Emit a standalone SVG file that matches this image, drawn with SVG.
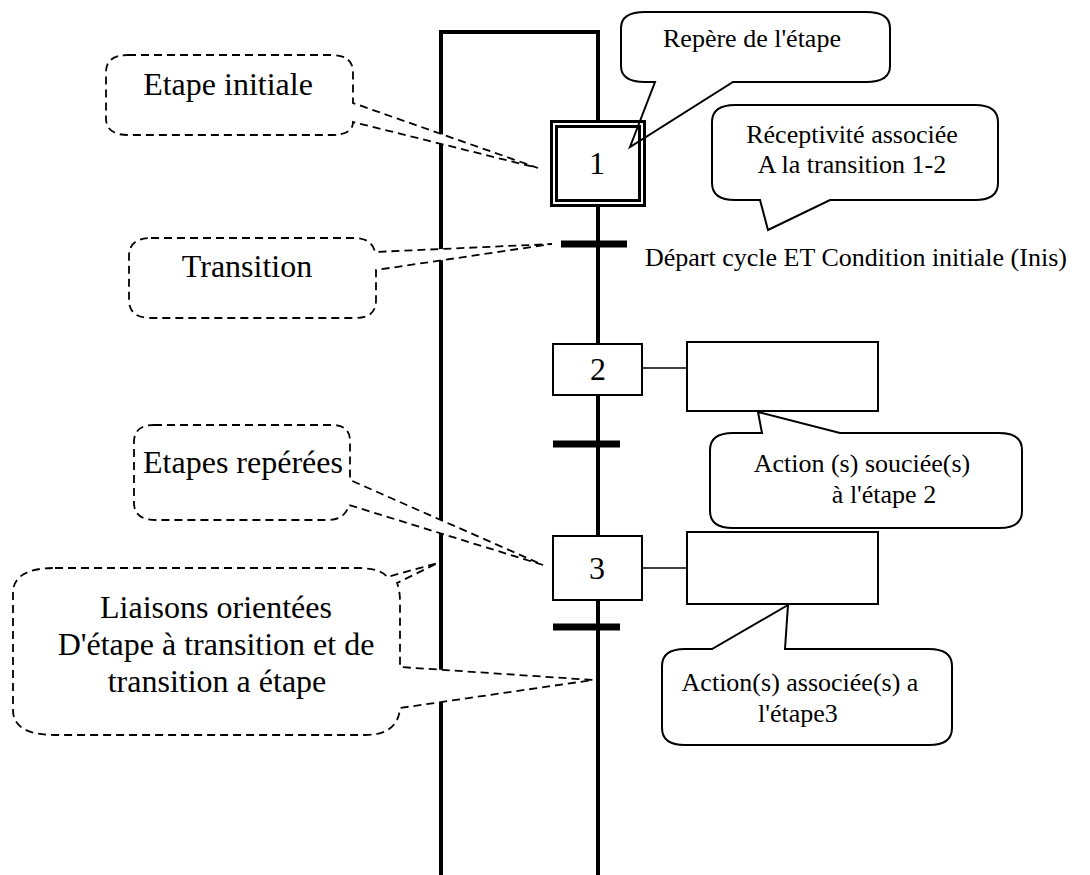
<svg xmlns="http://www.w3.org/2000/svg" width="1090" height="875" viewBox="0 0 1090 875">
  <defs>
    <style>
      text { font-family: "Liberation Serif", "Times New Roman", serif; fill: #000; }
      .big { font-size: 32px; text-anchor: middle; }
      .small { font-size: 26px; }
      .mid { text-anchor: middle; }
      .num { font-size: 32px; text-anchor: middle; }
      .link { stroke: #000; stroke-width: 4; fill: none; }
      .bar { stroke: #000; stroke-width: 7; }
      .thin { stroke: #000; stroke-width: 1.6; fill: none; }
      .step { stroke: #000; stroke-width: 2; fill: #fff; }
      .dbl { stroke: #000; stroke-width: 3; fill: none; }
      .act { stroke: #000; stroke-width: 2; fill: #fff; }
      .bubble { stroke: #000; stroke-width: 2; fill: #fff; stroke-linejoin: miter; }
      .note { stroke: #000; stroke-width: 1.8; fill: #fff; stroke-dasharray: 8 5; }
    </style>
  </defs>
  <rect width="1090" height="875" fill="#fff"/>

  <!-- oriented links: main chain and return loop -->
  <g id="connectors">
    <path class="link" d="M598,875 V32 H441 V875"/>
    <line class="thin" x1="642" y1="368" x2="687" y2="368"/>
    <line class="thin" x1="642" y1="568" x2="687" y2="568"/>
  </g>

  <!-- transitions -->
  <g id="transition-1-2">
    <line class="bar" x1="561" y1="244" x2="627" y2="244"/>
    <text class="small" x="645" y="266">Départ cycle ET Condition initiale (Inis)</text>
  </g>
  <g id="transition-2-3">
    <line class="bar" x1="553" y1="444" x2="620" y2="444"/>
  </g>
  <g id="transition-3">
    <line class="bar" x1="553" y1="627" x2="620" y2="627"/>
  </g>

  <!-- steps -->
  <g id="step-2">
    <rect class="step" x="553" y="344" width="89" height="51"/>
    <text class="num" x="598" y="380">2</text>
  </g>
  <g id="step-3">
    <rect class="step" x="553" y="536" width="89" height="64"/>
    <text class="num" x="597" y="579">3</text>
  </g>

  <!-- action boxes -->
  <g id="action-2">
    <rect class="act" x="687" y="342" width="191" height="69"/>
  </g>
  <g id="action-3">
    <rect class="act" x="687" y="532" width="191" height="72"/>
  </g>

  <!-- step 1 (initial step, double frame) -->
  <g id="step-1">
    <rect x="551.5" y="121.5" width="93" height="84" fill="#fff" stroke="none"/>
    <text class="num" x="597" y="174">1</text>
  </g>

  <!-- dashed annotation callouts -->
  <g id="note-etape-initiale">
    <path class="note" d="M128,55 H331 Q353,55 353,72 V103 L538,168 L353,122 Q353,135 331,135 H128 Q106,135 106,118 V72 Q106,55 128,55 Z"/>
    <text class="big" x="228" y="95">Etape initiale</text>
  </g>
  <g id="note-transition">
    <path class="note" d="M151,238 H354 Q372,238 375,252 L552,244 L376,270 V300 Q376,318 356,318 H151 Q129,318 129,300 V256 Q129,238 151,238 Z"/>
    <text class="big" x="247" y="277">Transition</text>
  </g>
  <g id="note-etapes-reperees">
    <path class="note" d="M154,425 H332 Q350,425 350,441 V480 L543,565 L349,505 Q345,520 328,520 H156 Q134,520 134,503 V442 Q134,425 154,425 Z"/>
    <text class="big" x="243" y="473">Etapes repérées</text>
  </g>
  <g id="note-liaisons">
    <path class="note" d="M55,568 H360 Q382,569 387,577 L438,563 L397,583 Q400,590 400,602 V667 L593,680 L400,708 Q398,735 365,735 H55 Q13,735 13,710 V593 Q13,568 55,568 Z"/>
    <text class="big" x="216" y="618">Liaisons orientées</text>
    <text class="big" x="216" y="655">D'étape à transition et de</text>
    <text class="big" x="217" y="692">transition a étape</text>
  </g>

  <!-- solid callouts -->
  <g id="note-repere">
    <path class="bubble" d="M645,12 H866 Q890,12 890,28 V66 Q890,82 866,82 H733 L630,147 L655,82 H645 Q621,82 621,66 V28 Q621,12 645,12 Z"/>
    <text class="small mid" x="752" y="47">Repère de l'étape</text>
  </g>
  <g id="note-receptivite">
    <path class="bubble" d="M735,105 H975 Q998,105 998,122 V183 Q998,200 975,200 H830 L768,230 L760,200 H735 Q712,200 712,183 V122 Q712,105 735,105 Z"/>
    <text class="small mid" x="852" y="143">Réceptivité associée</text>
    <text class="small mid" x="852" y="173">A la transition 1-2</text>
  </g>
  <g id="note-action-2">
    <path class="bubble" d="M733,433 H762 L758,412 L840,433 H999 Q1022,433 1022,450 V511 Q1022,528 999,528 H733 Q710,528 710,511 V450 Q710,433 733,433 Z"/>
    <text class="small mid" x="862" y="472">Action (s) souciée(s)</text>
    <text class="small mid" x="884" y="503">à l'étape 2</text>
  </g>
  <g id="note-action-3">
    <path class="bubble" d="M685,649 H712 L788,605 L785,649 H929 Q952,649 952,666 V728 Q952,745 929,745 H685 Q662,745 662,728 V666 Q662,649 685,649 Z"/>
    <text class="small mid" x="800" y="691">Action(s) associée(s) a</text>
    <text class="small mid" x="798" y="722">l'étape3</text>
  </g>

  <!-- double frame of step 1, drawn above the pointer of its callout -->
  <g id="step-1-frame">
    <rect class="dbl" x="551.5" y="121.5" width="93" height="84"/>
    <rect class="dbl" x="556.5" y="126.5" width="83" height="74"/>
  </g>
</svg>
